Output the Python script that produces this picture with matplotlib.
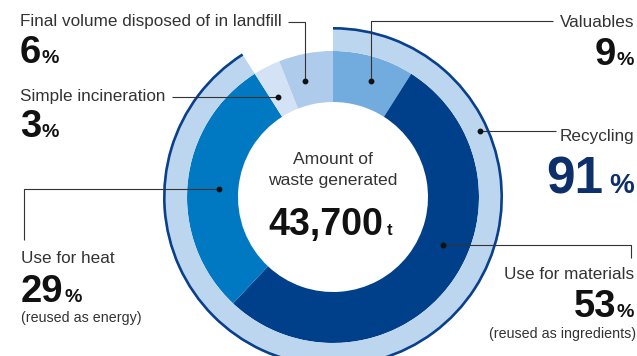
import matplotlib
matplotlib.use("Agg")
import matplotlib.pyplot as plt

W, H = 637, 356

# 内圈：处理方式构成 (%)
inner_labels = ["Valuables", "Use for materials", "Use for heat",
                "Simple incineration", "Final volume disposed of in landfill"]
inner_values = [9, 53, 29, 3, 6]
inner_colors = ["#72abdd", "#003f8a", "#0079c2", "#d3e3f5", "#aecbeb"]

# 外圈：再利用率
outer_labels = ["Recycling", ""]
outer_values = [91, 9]

total_text = "43,700"
total_unit = "t"

plt.rcParams["font.family"] = ["Liberation Sans", "DejaVu Sans"]

fig = plt.figure(figsize=(W / 100, H / 100), dpi=100)
ax = fig.add_axes([0, 0, 1, 1])


def Y(y):
    # 像素坐标(向下) -> 数据坐标(向上)
    return H - y


cx, cy = 333, Y(197)

ax.pie(inner_values, colors=inner_colors, radius=146, center=(cx, cy),
       startangle=90, counterclock=False,
       wedgeprops=dict(width=51, linewidth=0))
ax.pie(outer_values, colors=["#bcd6f0", "none"], radius=170, center=(cx, cy),
       startangle=90, counterclock=False,
       wedgeprops=dict(width=24, linewidth=0))
ax.pie(outer_values, colors=["#0a3f8c", "none"], radius=170, center=(cx, cy),
       startangle=90, counterclock=False,
       wedgeprops=dict(width=2.6, linewidth=0))

ax.set_xlim(0, W)
ax.set_ylim(0, H)
ax.set_aspect("equal")
ax.axis("off")

grey = "#333333"
black = "#111111"
navy = "#0d2f6a"
lab_fs = 12.3
num_fs = 27.5
pct_fs = 14
note_fs = 10.3


def leader(points):
    xs = [p[0] for p in points]
    ys = [Y(p[1]) for p in points]
    ax.plot(xs, ys, color=grey, lw=0.8, solid_capstyle="butt")
    ax.plot(xs[0], ys[0], "o", color=black, ms=3.2)


def pct_left(x, base, value, fs=num_fs, pfs=pct_fs, color=black, gap=0.5):
    t = ax.text(x, Y(base), str(value), fontsize=fs, fontweight="bold",
                color=color, ha="left", va="baseline")
    ax.annotate("%", xy=(1, Y(base)), xycoords=(t, "data"),
                xytext=(gap, 0), textcoords="offset points",
                fontsize=pfs, fontweight="bold", color=color,
                ha="left", va="baseline")


def pct_right(x, base, value, fs=num_fs, pfs=pct_fs, color=black, gap=0.5):
    p = ax.text(x, Y(base), "%", fontsize=pfs, fontweight="bold",
                color=color, ha="right", va="baseline")
    ax.annotate(str(value), xy=(0, Y(base)), xycoords=(p, "data"),
                xytext=(-gap, 0), textcoords="offset points",
                fontsize=fs, fontweight="bold", color=color,
                ha="right", va="baseline")


# 左侧标签
ax.text(20, Y(26), inner_labels[4], fontsize=lab_fs, color=grey, va="baseline")
pct_left(20, 63, inner_values[4])
leader([(305, 81), (305, 22), (288, 22)])

ax.text(20, Y(101), inner_labels[3], fontsize=lab_fs, color=grey, va="baseline")
pct_left(20, 137, inner_values[3])
leader([(278, 97), (172, 97)])

ax.text(21, Y(263), inner_labels[2], fontsize=lab_fs, color=grey, va="baseline")
pct_left(21, 302, inner_values[2])
ax.text(21, Y(318), "(reused as energy)", fontsize=note_fs, color=grey, va="center")
leader([(219, 189), (24, 189), (24, 240)])

# 右侧标签
ax.text(634, Y(27), inner_labels[0], fontsize=lab_fs, color=grey,
        ha="right", va="baseline")
pct_right(634, 65, inner_values[0])
leader([(371, 81), (371, 21), (553, 21)])

ax.text(634, Y(141), outer_labels[0], fontsize=lab_fs, color=grey,
        ha="right", va="baseline")
pct_right(634, 193, outer_values[0], fs=37, pfs=20, color=navy, gap=4)
leader([(480, 131), (556, 131)])

ax.text(634, Y(279), inner_labels[1], fontsize=lab_fs, color=grey,
        ha="right", va="baseline")
pct_right(634, 317, inner_values[1])
ax.text(636, Y(334), "(reused as ingredients)", fontsize=note_fs, color=grey,
        ha="right", va="center")
leader([(443, 245), (631, 245), (631, 258)])

# 中心文字
ax.text(cx, Y(160), "Amount of", fontsize=12.6, color=grey,
        ha="center", va="center")
ax.text(cx, Y(181), "waste generated", fontsize=12.6, color=grey,
        ha="center", va="center")
tot = ax.text(383, Y(235), total_text, fontsize=27, fontweight="bold",
              color=black, ha="right", va="baseline")
ax.annotate(total_unit, xy=(1, Y(235)), xycoords=(tot, "data"),
            xytext=(3, 0), textcoords="offset points", fontsize=12,
            fontweight="bold", color=black, ha="left", va="baseline")

fig.savefig("out.png", dpi=100)
